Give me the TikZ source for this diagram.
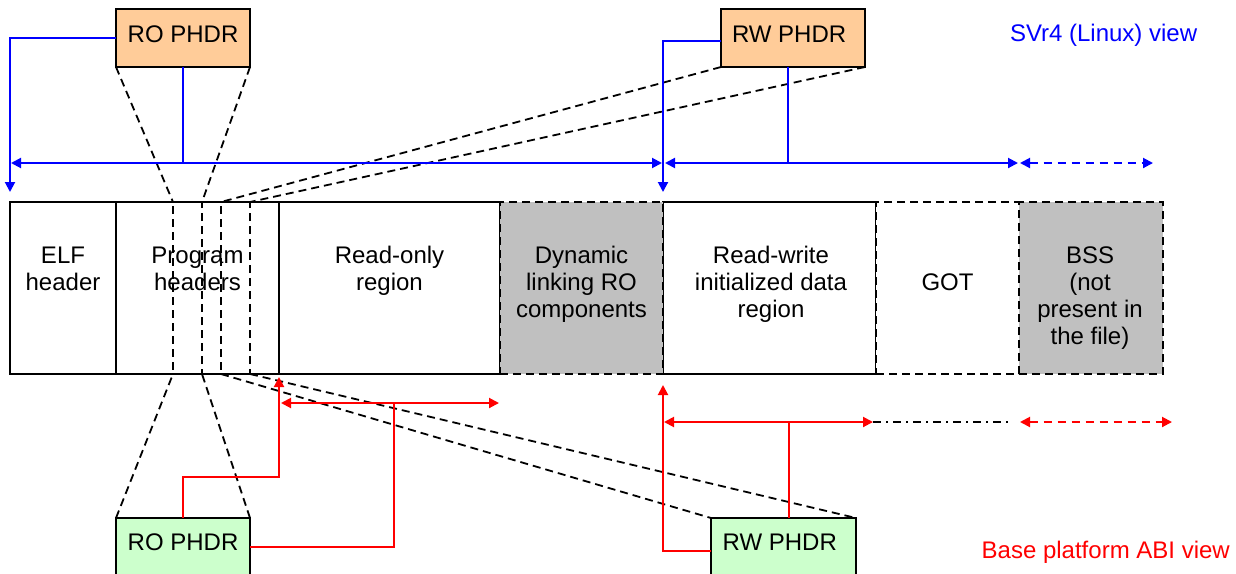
\documentclass[tikz,border=0pt]{standalone}
\usepackage{fontspec}
\setmainfont{Liberation Sans}
\usetikzlibrary{arrows.meta,calc}
\definecolor{peach}{HTML}{FFCC99}
\definecolor{mint}{HTML}{CCFFCC}
\definecolor{cellgray}{HTML}{C0C0C0}
\definecolor{vblue}{HTML}{0000FF}
\definecolor{vred}{HTML}{FF0000}
\newcommand\celltext[1]{\begin{tabular}[t]{@{}c@{}}#1\end{tabular}}
\begin{document}
\begin{tikzpicture}[x=0.5pt,y=-0.5pt,
  >={Triangle[length=5pt,width=5pt]},
  every node/.style={inner sep=0pt, outer sep=0pt, font=\fontsize{12}{13.5}\selectfont},
  cellbox/.style={draw=black, line width=1pt, minimum height=86pt, fill=white},
  dcellbox/.style={cellbox, dash pattern=on 4pt off 2.5pt},
  subbox/.style={draw=black, line width=0.9pt, dash pattern=on 4pt off 2.5pt, minimum height=86pt},
  phdrbox/.style={draw=black, line width=1pt, minimum height=29pt},
  dashline/.style={draw=black, line width=0.9pt, dash pattern=on 4pt off 2.5pt},
  blueline/.style={draw=vblue, line width=1pt},
  redline/.style={draw=vred, line width=1pt},
  dotdash/.style={draw=black, line width=0.8pt, dash pattern=on 4pt off 2.5pt on 1pt off 2.5pt}
]
\useasboundingbox (0,0) rectangle (1236,573);
\clip (0,0) rectangle (1236,573);

% strip cells
\node[cellbox, minimum width=53pt]   (elf) at (63,288) {};
\node[cellbox, minimum width=81.5pt] (ph)  at (197.5,288) {};
\node[cellbox, minimum width=110.5pt](ro)  at (389.5,288) {};
\node[cellbox, minimum width=106.5pt](rw)  at (769.5,288) {};
\node[dcellbox, fill=cellgray, minimum width=81.5pt] (dyn) at (581.5,288) {};
\node[dcellbox, minimum width=71.5pt] (got) at (947.5,288) {};
\node[dcellbox, fill=cellgray, minimum width=72pt] (bss) at (1091,288) {};

% cell texts
\node[anchor=base] (elfT) at (63,263) {\celltext{ELF\\header}};
\node[anchor=base] (phT)  at (197.5,263) {\celltext{Program\\headers}};
\node[anchor=base] (roT2) at (389.5,263) {\celltext{Read-only\\region}};
\node[anchor=base] (dynT) at (581.5,263) {\celltext{Dynamic\\linking RO\\components}};
\node[anchor=base] (rwT2) at (771,263) {\celltext{Read-write\\initialized data\\region}};
\node[anchor=base] (gotT) at (947.5,290) {GOT};
\node[anchor=base] (bssT) at (1090,263) {\celltext{BSS\\(not\\present in\\the file)}};

% program header entries (drawn over the text)
\node[subbox, minimum width=14.5pt] (phA) at (187.5,288) {};
\node[subbox, minimum width=14.5pt] (phB) at (235.5,288) {};

% PHDR boxes
\node[phdrbox, fill=peach, minimum width=67pt] (roT) at (183,38) {};
\node[phdrbox, fill=peach, minimum width=72pt] (rwT) at (793,38) {};
\node[phdrbox, fill=mint, minimum width=67pt] (roB) at (183,547) {};
\node[phdrbox, fill=mint, minimum width=72.5pt] (rwB) at (783.5,547) {};
\node[anchor=base west] (roTt) at (127.7,42) {RO PHDR};
\node[anchor=base west] (rwTt) at (732,42) {RW PHDR};
\node[anchor=base west] (roBt) at (127.7,550) {RO PHDR};
\node[anchor=base west] (rwBt) at (722.7,550) {RW PHDR};

% view labels
\node[anchor=base west, text=vblue] (svr) at (1010,41) {SVr4 (Linux) view};
\node[anchor=base west, text=vred] (abi) at (981.7,558) {Base platform ABI view};

% dashed projection lines
\draw[dashline] (roT.south west) -- (phA.north west);
\draw[dashline] (roT.south east) -- (phA.north east);
\draw[dashline] (rwT.south west) -- (phB.north west);
\draw[dashline] (rwT.south east) -- (phB.north east);
\draw[dashline] (roB.north west) -- (phA.south west);
\draw[dashline] (roB.north east) -- (phA.south east);
\draw[dashline] (phB.south west) -- (rwB.north west);
\draw[dashline] (phB.south east) -- (rwB.north east);

% SVr4 (blue) view
\coordinate (roDown) at (10,192);
\coordinate (rwDown) at (663,192);
\coordinate (bL) at (11,163);
\coordinate (bM) at (662,163);
\coordinate (bM2) at (665,163);
\coordinate (bR) at (1018,163);
\coordinate (bD1) at (1020,163);
\coordinate (bD2) at (1153,163);
\draw[blueline, ->] (roT.west) -| (roDown);
\draw[blueline, ->] ([yshift=-1.5pt]rwT.west) -| (rwDown);
\draw[blueline, <->] (bL) -- (bM);
\draw[blueline] (roT.south) -- (roT.south |- bL);
\draw[blueline, <->] (bM2) -- (bR);
\draw[blueline] ([xshift=-2.5pt]rwT.south) -- ([xshift=-2.5pt]rwT.south |- bR);
\draw[blueline, dash pattern=on 4pt off 3pt, <->] (bD1) -- (bD2);

% Base platform (red) view
\coordinate (roUp) at (279,377);
\coordinate (rwUp) at (663,385);
\coordinate (rL) at (281,403);
\coordinate (rR) at (499,403);
\coordinate (rL2) at (664,422);
\coordinate (rR2) at (873,422);
\coordinate (kEnd) at (1010,422);
\coordinate (rD1) at (1020,422);
\coordinate (rD2) at (1172,422);
\draw[redline, ->] (roB.north) -- ++(0,-41) -| (roUp);
\draw[redline, <->] (rL) -- (rR);
\draw[redline] (roB.east) -| (394,403);
\draw[redline, ->] ([yshift=-2pt]rwB.west) -| (rwUp);
\draw[redline, <->] (rL2) -- (rR2);
\draw[redline] ([xshift=2.5pt]rwB.north) -- ([xshift=2.5pt]rwB.north |- rL2);
\draw[dotdash] (rR2) -- (kEnd);
\draw[redline, dash pattern=on 4pt off 3pt, <->] (rD1) -- (rD2);
\end{tikzpicture}
\end{document}
